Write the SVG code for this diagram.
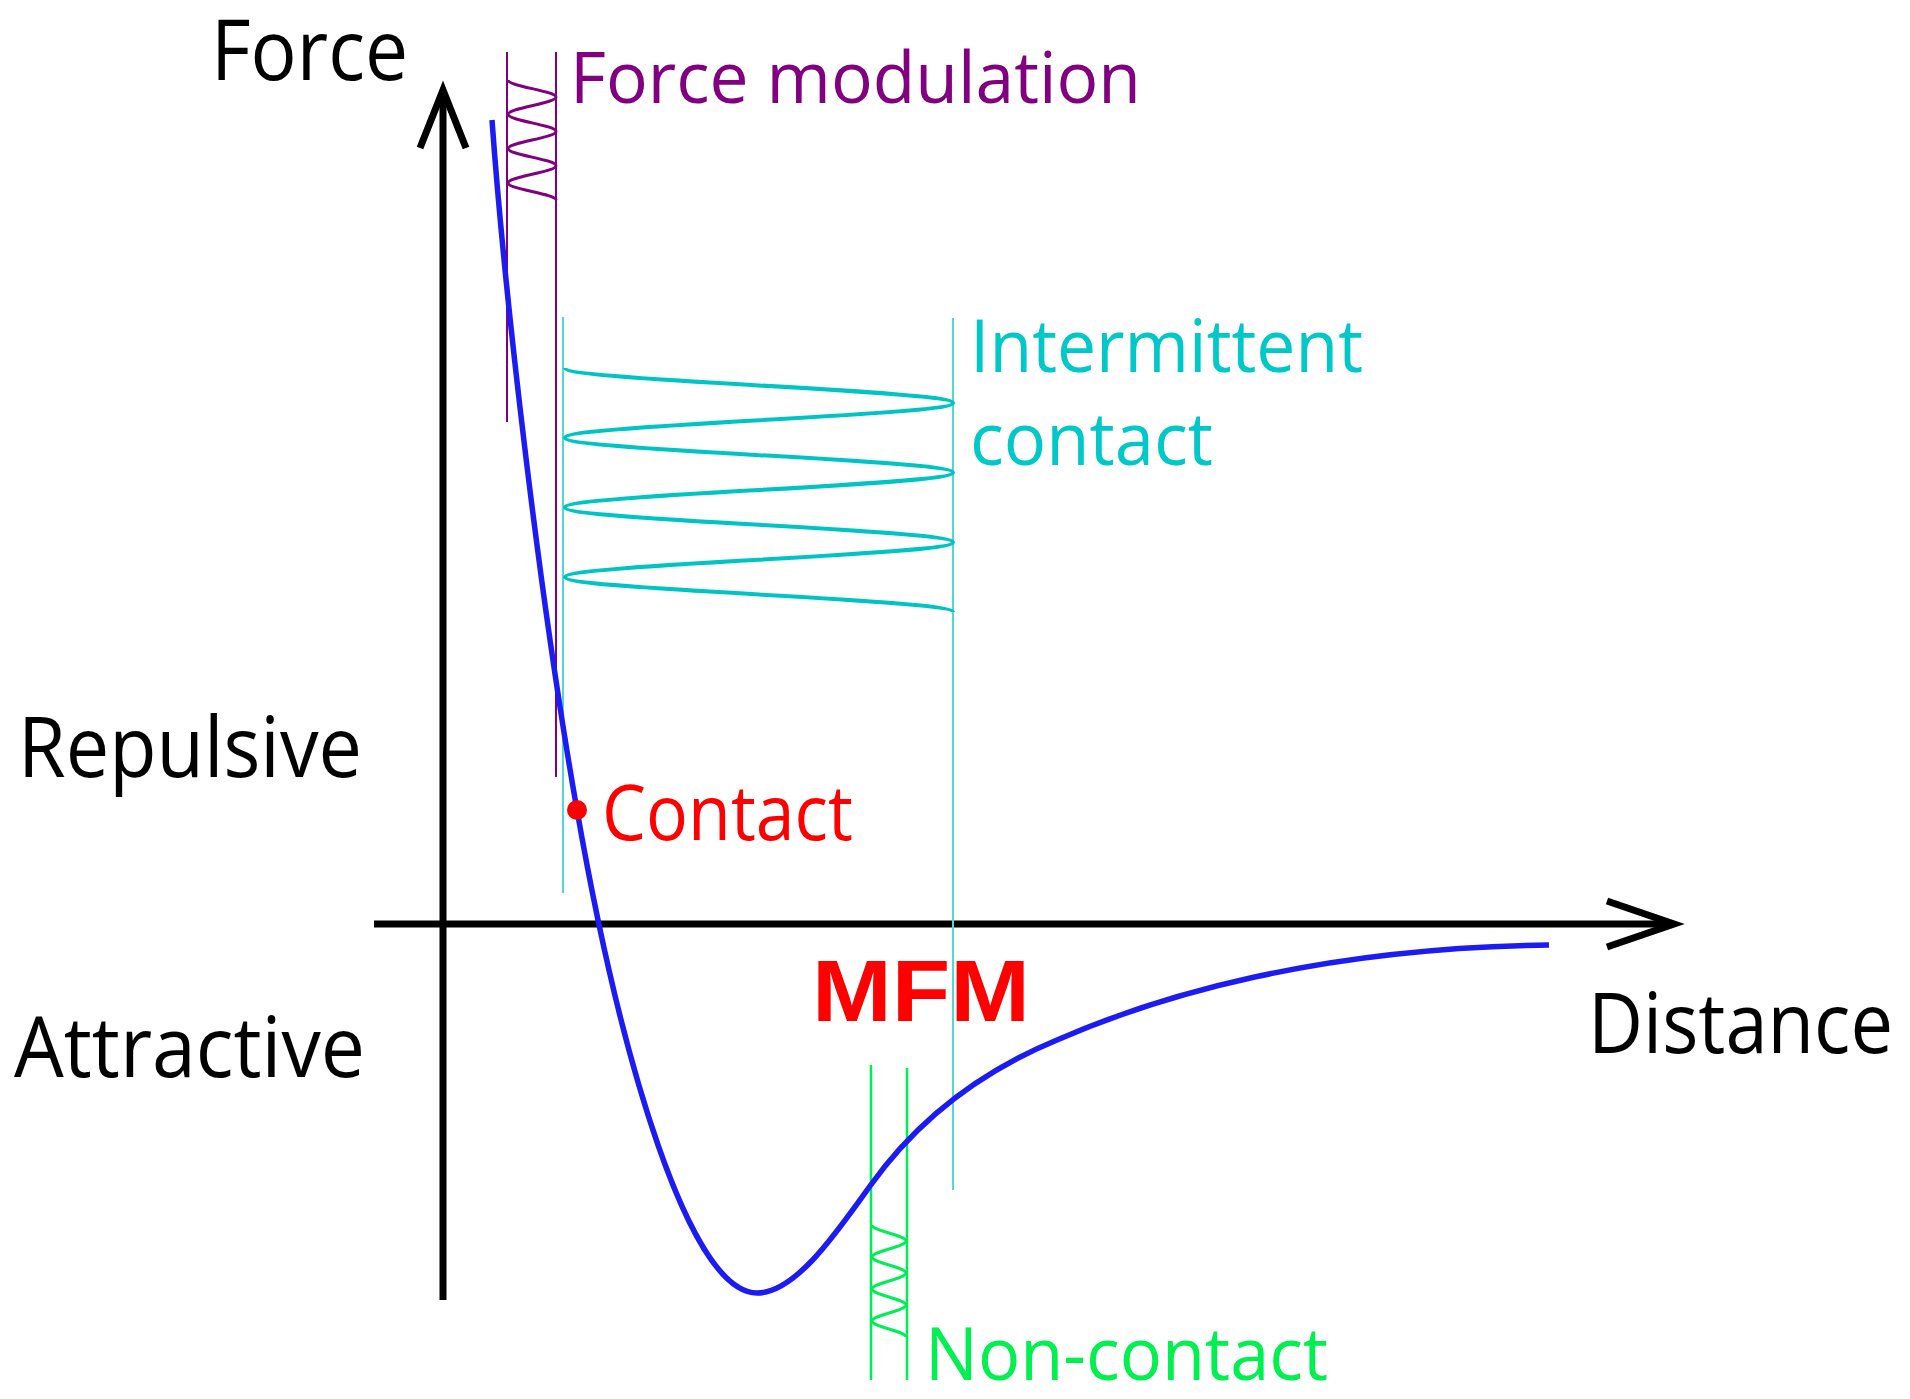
<svg xmlns="http://www.w3.org/2000/svg" width="1910" height="1399" viewBox="0 0 1910 1399">
  <style>
    .axis { fill: none; stroke: #000; stroke-width: 7; stroke-linejoin: miter; stroke-miterlimit: 10; }
    .lbl { font-family: "Open Sans", "Noto Sans", "Liberation Sans", sans-serif; font-weight: 500; }
    .black { fill: #000; font-size: 84px; }
    .fm { fill: #800080; font-size: 71px; }
    .ic { fill: #00c8c8; font-size: 73px; }
    .ct { fill: #ff0000; font-size: 77px; }
    .nc { fill: #00f050; font-size: 73px; }
    .mfm { fill: #ff0000; font-size: 88px; font-weight: 700; font-family: "Liberation Sans", "Open Sans", sans-serif; }
    .guide-fm { stroke: #800080; stroke-width: 2; fill: none; }
    .guide-ic { stroke: #55d6d6; stroke-width: 2; fill: none; }
    .guide-nc { stroke: #00ee55; stroke-width: 2.5; fill: none; }
    .wave-fm { stroke: #800080; stroke-width: 3; fill: none; }
    .wave-ic { stroke: #00c4c4; stroke-width: 4; fill: none; }
    .wave-nc { stroke: #00ee55; stroke-width: 3; fill: none; }
    .potential { stroke: #1c1cf2; stroke-width: 5.5; fill: none; stroke-linecap: butt; }
  </style>
  <rect width="1910" height="1399" fill="#fff"/>

  <!-- force and distance axes -->
  <g id="axes">
    <line class="axis" x1="443" y1="1300" x2="443" y2="92"/>
    <polyline class="axis" points="420,148 443,90 466,148"/>
    <line class="axis" x1="374" y1="924" x2="1672" y2="924"/>
    <polyline class="axis" points="1607,901 1674,924 1607,947"/>
  </g>

  <!-- force modulation mode: narrow oscillation inside two guides -->
  <g id="mode-force-modulation">
    <line class="guide-fm" x1="507" y1="52" x2="507" y2="422"/>
    <line class="guide-fm" x1="556" y1="52" x2="556" y2="777"/>
    <path class="wave-fm" d="M508,80 C508,86.2 556,91 556,97.1 C556,103.4 508,108.1 508,114.3 C508,120.5 556,125.2 556,131.4 C556,137.7 508,142.3 508,148.6 C508,154.8 556,159.5 556,165.7 C556,171.9 508,176.6 508,182.9 C508,189.1 556,193.8 556,200"/>
    <text class="lbl fm" x="570" y="103" textLength="571" lengthAdjust="spacingAndGlyphs">Force modulation</text>
  </g>

  <!-- intermittent contact mode: wide oscillation -->
  <g id="mode-intermittent">
    <line class="guide-ic" x1="563" y1="317" x2="563" y2="893"/>
    <line class="guide-ic" x1="953" y1="318" x2="953" y2="1190"/>
    <path class="wave-ic" d="M565,368 C565,380.7 953,390.2 953,402.9 C953,415.5 565,425 565,437.7 C565,450.4 953,459.9 953,472.6 C953,485.3 565,494.8 565,507.4 C565,520.1 953,529.6 953,542.3 C953,555 565,564.5 565,577.1 C565,589.8 953,599.3 953,612"/>
    <text class="lbl ic" x="970" y="372" textLength="393" lengthAdjust="spacingAndGlyphs">Intermittent</text>
    <text class="lbl ic" x="970" y="465" textLength="243" lengthAdjust="spacingAndGlyphs">contact</text>
  </g>

  <!-- non-contact mode: small oscillation in the attractive well -->
  <g id="mode-non-contact">
    <line class="guide-nc" x1="871" y1="1065" x2="871" y2="1380"/>
    <line class="guide-nc" x1="907" y1="1068" x2="907" y2="1380"/>
    <path class="wave-nc" d="M872,1225 C872,1230.8 906,1235.2 906,1241 C906,1246.8 872,1251.2 872,1257 C872,1262.8 906,1267.2 906,1273 C906,1278.8 872,1283.2 872,1289 C872,1294.8 906,1299.2 906,1305 C906,1310.8 872,1315.2 872,1321 C872,1326.8 906,1331.2 906,1337"/>
    <text class="lbl nc" x="925" y="1380" textLength="403" lengthAdjust="spacingAndGlyphs">Non-contact</text>
  </g>

  <!-- tip-sample force versus distance -->
  <g id="force-curve">
    <path class="potential" d="M492,120 C505,300 540,600 577,810 C621,1062 690,1293 757,1293 C795,1293 835,1235 870,1186 C905,1137 960,1080 1057,1040 C1160,995 1320,948 1549,945"/>
  </g>

  <!-- contact point -->
  <g id="mode-contact">
    <circle cx="577" cy="810" r="10" fill="#ff0000"/>
    <text class="lbl ct" x="602" y="840" textLength="251" lengthAdjust="spacingAndGlyphs">Contact</text>
  </g>

  <!-- axis and region labels -->
  <g id="labels">
    <text class="lbl black" x="211" y="80" textLength="197" lengthAdjust="spacingAndGlyphs">Force</text>
    <text class="lbl black" x="18" y="777" textLength="344" lengthAdjust="spacingAndGlyphs">Repulsive</text>
    <text class="lbl black" x="14" y="1077" textLength="351" lengthAdjust="spacingAndGlyphs">Attractive</text>
    <text class="lbl black" x="1588" y="1053" textLength="305" lengthAdjust="spacingAndGlyphs">Distance</text>
    <text class="mfm" x="812" y="1021" textLength="218" lengthAdjust="spacingAndGlyphs">MFM</text>
  </g>
</svg>
